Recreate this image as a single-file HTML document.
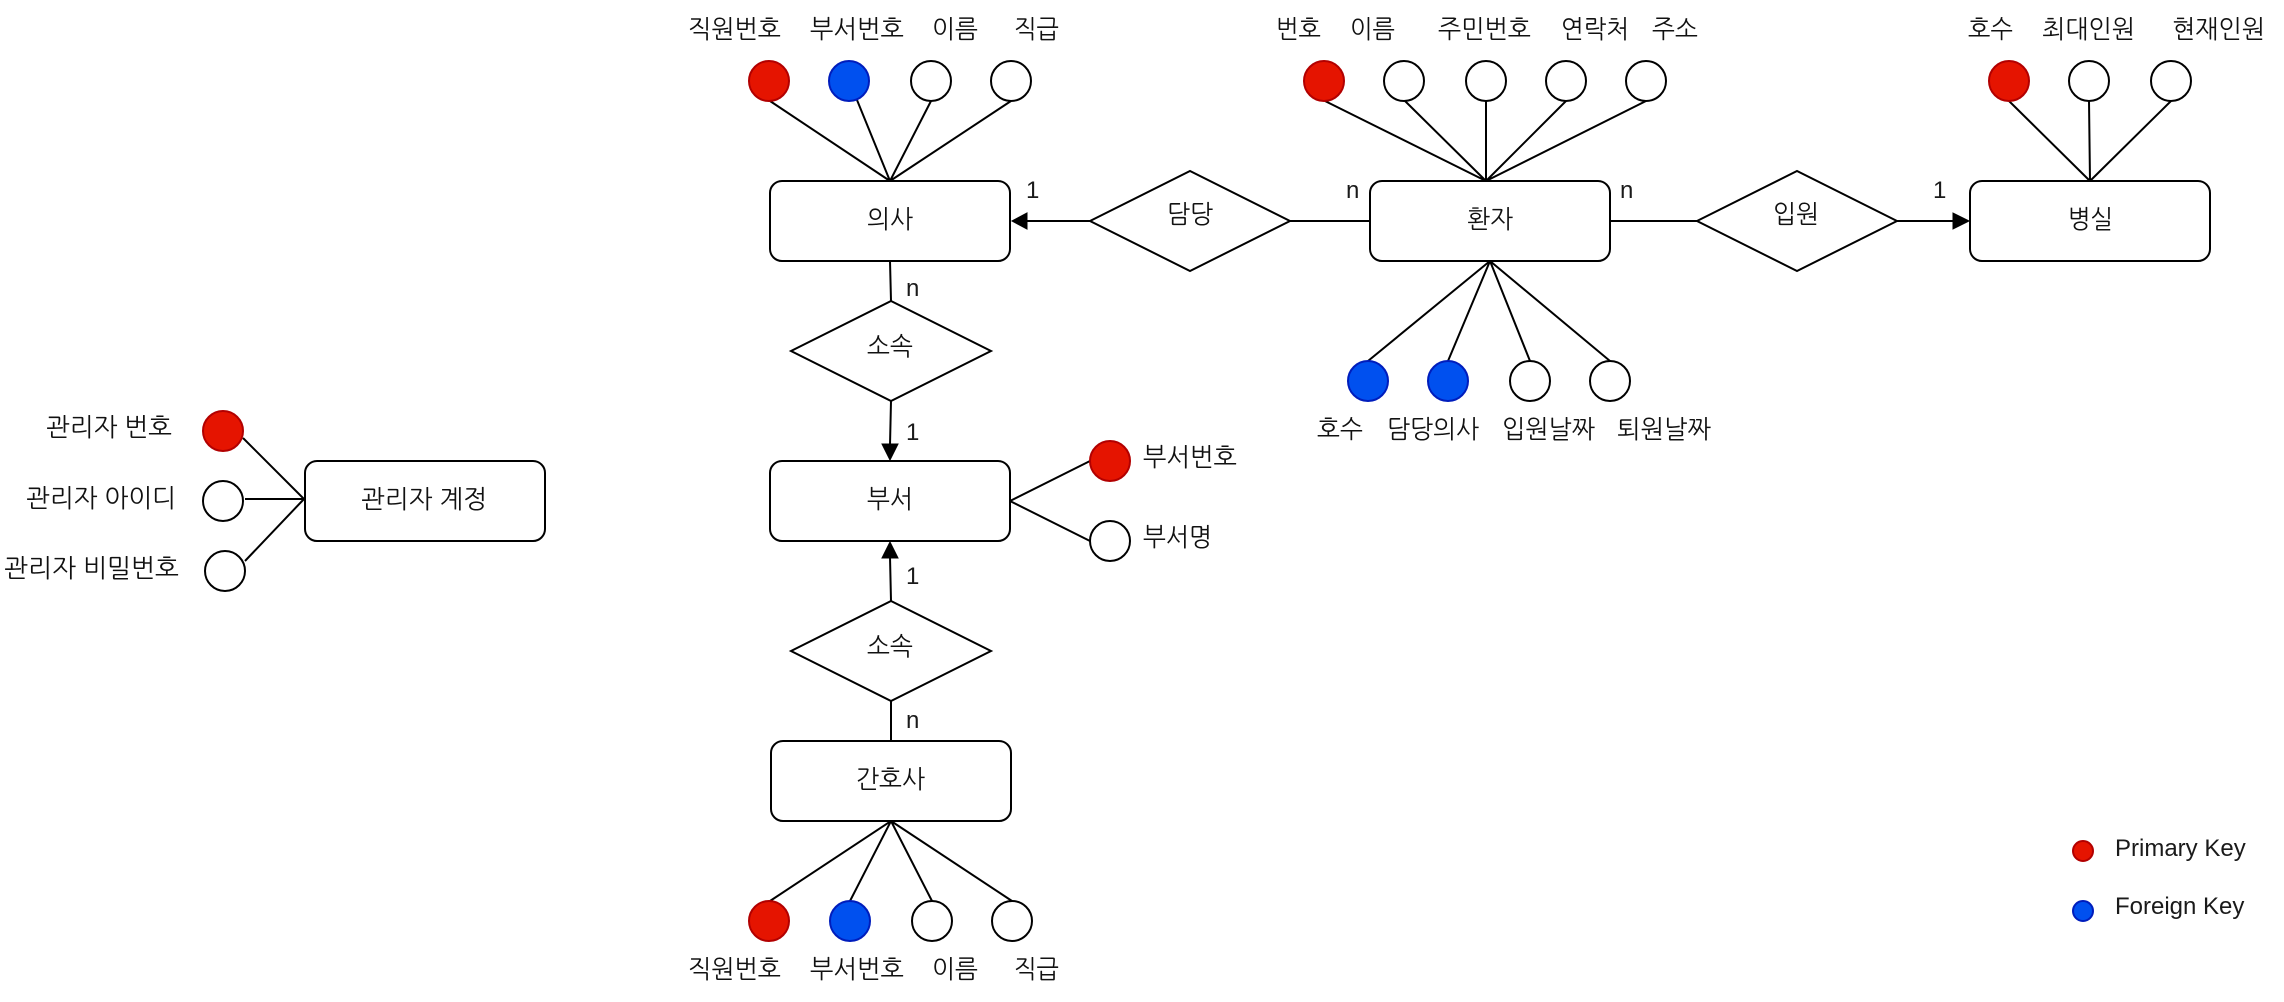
<!DOCTYPE html>
<html lang="ko"><head><meta charset="utf-8"><title>ER Diagram</title>
<style>
html,body{margin:0;padding:0;background:#fff;width:2284px;height:1002px;overflow:hidden}
svg{display:block}
.s{fill:#fff;stroke:#000;stroke-width:2}
.l{stroke:#000;stroke-width:2;fill:none}
.r{fill:#e51400;stroke:#b20000;stroke-width:2}
.b{fill:#0050ef;stroke:#001dbc;stroke-width:2}
.w{fill:#fff;stroke:#000;stroke-width:2}
.a{fill:#000;stroke:#000;stroke-width:1}
text{font-family:"NanumGothic","Noto Sans CJK KR",sans-serif;font-size:25.5px;fill:#111}
.e{font-family:"Liberation Sans",sans-serif;font-size:24px;fill:#1a1a1a}
</style></head><body>
<svg width="2284" height="1002" viewBox="0 0 2284 1002" xmlns="http://www.w3.org/2000/svg">
<!-- connectors -->
<g class="l">
<path d="M770 101L890 181M857 100L890 181M931 101L890 181M1011 101L890 181"/>
<path d="M1325 101L1486 181M1405 101L1486 181M1486 101L1486 181M1566 101L1486 181M1646 101L1486 181"/>
<path d="M2009 101L2090 181M2089 101L2090 181M2171 101L2090 181"/>
<path d="M1490 261L1368 361M1490 261L1448 361M1490 261L1530 361M1490 261L1610 361"/>
<path d="M891 821L770 901M891 821L850 901M891 821L932 901M891 821L1012 901"/>
<path d="M243 438L304 499M245 499L304 499M245 561L304 499"/>
<path d="M1010 501L1090 461M1010 501L1090 541"/>
<path d="M890 261L891 301M891 401L890 445M891 601L890 557M891 701L891 741"/>
<path d="M1090 221L1026 221M1290 221L1370 221M1610 221L1697 221M1897 221L1954 221"/>
</g>
<path class="a" d="M1012 221L1027 213L1027 229Z"/>
<path class="a" d="M1969 221L1953 213L1953 229Z"/>
<path class="a" d="M890 460L882 444L898 444Z"/>
<path class="a" d="M890 542L882 558L898 558Z"/>
<!-- entities -->
<rect class="s" x="770" y="181" width="240" height="80" rx="12"/>
<rect class="s" x="1370" y="181" width="240" height="80" rx="12"/>
<rect class="s" x="1970" y="181" width="240" height="80" rx="12"/>
<rect class="s" x="770" y="461" width="240" height="80" rx="12"/>
<rect class="s" x="771" y="741" width="240" height="80" rx="12"/>
<rect class="s" x="305" y="461" width="240" height="80" rx="12"/>
<!-- relationships -->
<path class="s" d="M1090 221L1190 171L1290 221L1190 271Z"/>
<path class="s" d="M1697 221L1797 171L1897 221L1797 271Z"/>
<path class="s" d="M791 351L891 301L991 351L891 401Z"/>
<path class="s" d="M791 651L891 601L991 651L891 701Z"/>
<!-- attributes -->
<circle class="r" cx="769" cy="81" r="20"/><circle class="b" cx="849" cy="81" r="20"/><circle class="w" cx="931" cy="81" r="20"/><circle class="w" cx="1011" cy="81" r="20"/>
<circle class="r" cx="1324" cy="81" r="20"/><circle class="w" cx="1404" cy="81" r="20"/><circle class="w" cx="1486" cy="81" r="20"/><circle class="w" cx="1566" cy="81" r="20"/><circle class="w" cx="1646" cy="81" r="20"/>
<circle class="r" cx="2009" cy="81" r="20"/><circle class="w" cx="2089" cy="81" r="20"/><circle class="w" cx="2171" cy="81" r="20"/>
<circle class="b" cx="1368" cy="381" r="20"/><circle class="b" cx="1448" cy="381" r="20"/><circle class="w" cx="1530" cy="381" r="20"/><circle class="w" cx="1610" cy="381" r="20"/>
<circle class="r" cx="769" cy="921" r="20"/><circle class="b" cx="850" cy="921" r="20"/><circle class="w" cx="932" cy="921" r="20"/><circle class="w" cx="1012" cy="921" r="20"/>
<circle class="r" cx="1110" cy="461" r="20"/><circle class="w" cx="1110" cy="541" r="20"/>
<circle class="r" cx="223" cy="431" r="20"/><circle class="w" cx="223" cy="501" r="20"/><circle class="w" cx="225" cy="571" r="20"/>
<circle class="r" cx="2083" cy="851" r="10"/><circle class="b" cx="2083" cy="911" r="10"/>
<!-- labels -->
<g>
<text x="688" y="38" textLength="93" lengthAdjust="spacingAndGlyphs">직원번호</text>
<text x="810" y="38" textLength="94" lengthAdjust="spacingAndGlyphs">부서번호</text>
<text x="932" y="38" textLength="46" lengthAdjust="spacingAndGlyphs">이름</text>
<text x="1014" y="38" textLength="45" lengthAdjust="spacingAndGlyphs">직급</text>
<text x="1276" y="38" textLength="45" lengthAdjust="spacingAndGlyphs">번호</text>
<text x="1350" y="38" textLength="45" lengthAdjust="spacingAndGlyphs">이름</text>
<text x="1438" y="38" textLength="93" lengthAdjust="spacingAndGlyphs">주민번호</text>
<text x="1561" y="38" textLength="68" lengthAdjust="spacingAndGlyphs">연락처</text>
<text x="1652" y="38" textLength="46" lengthAdjust="spacingAndGlyphs">주소</text>
<text x="1968" y="38" textLength="45" lengthAdjust="spacingAndGlyphs">호수</text>
<text x="2042" y="38" textLength="93" lengthAdjust="spacingAndGlyphs">최대인원</text>
<text x="2172" y="38" textLength="93" lengthAdjust="spacingAndGlyphs">현재인원</text>
<text x="867" y="228" textLength="46" lengthAdjust="spacingAndGlyphs">의사</text>
<text x="1467" y="228" textLength="46" lengthAdjust="spacingAndGlyphs">환자</text>
<text x="2068" y="228" textLength="45" lengthAdjust="spacingAndGlyphs">병실</text>
<text x="1167" y="223" textLength="46" lengthAdjust="spacingAndGlyphs">담당</text>
<text x="1773" y="223" textLength="46" lengthAdjust="spacingAndGlyphs">입원</text>
<text x="867" y="355" textLength="46" lengthAdjust="spacingAndGlyphs">소속</text>
<text x="867" y="655" textLength="46" lengthAdjust="spacingAndGlyphs">소속</text>
<text x="867" y="508" textLength="46" lengthAdjust="spacingAndGlyphs">부서</text>
<text x="856" y="788" textLength="69" lengthAdjust="spacingAndGlyphs">간호사</text>
<text x="1317" y="438" textLength="46" lengthAdjust="spacingAndGlyphs">호수</text>
<text x="1387" y="438" textLength="92" lengthAdjust="spacingAndGlyphs">담당의사</text>
<text x="1502" y="438" textLength="93" lengthAdjust="spacingAndGlyphs">입원날짜</text>
<text x="1617" y="438" textLength="94" lengthAdjust="spacingAndGlyphs">퇴원날짜</text>
<text x="1143" y="466" textLength="94" lengthAdjust="spacingAndGlyphs">부서번호</text>
<text x="1143" y="546" textLength="69" lengthAdjust="spacingAndGlyphs">부서명</text>
<text x="688" y="978" textLength="93" lengthAdjust="spacingAndGlyphs">직원번호</text>
<text x="810" y="978" textLength="94" lengthAdjust="spacingAndGlyphs">부서번호</text>
<text x="932" y="978" textLength="46" lengthAdjust="spacingAndGlyphs">이름</text>
<text x="1014" y="978" textLength="45" lengthAdjust="spacingAndGlyphs">직급</text>
<text x="46" y="436" textLength="126" lengthAdjust="spacingAndGlyphs">관리자 번호</text>
<text x="26" y="507" textLength="150" lengthAdjust="spacingAndGlyphs">관리자 아이디</text>
<text x="4" y="577" textLength="175" lengthAdjust="spacingAndGlyphs">관리자 비밀번호</text>
<text x="361" y="508" textLength="126" lengthAdjust="spacingAndGlyphs">관리자 계정</text>
</g>
<text class="e" x="1026" y="198">1</text>
<text class="e" x="1933" y="198">1</text>
<text class="e" x="906" y="440">1</text>
<text class="e" x="906" y="584">1</text>
<text class="e" x="906" y="296">n</text>
<text class="e" x="906" y="728">n</text>
<text class="e" x="1346" y="198">n</text>
<text class="e" x="1620" y="198">n</text>
<text class="e" x="2115" y="856">Primary Key</text>
<text class="e" x="2115" y="914">Foreign Key</text>
</svg>
</body></html>
